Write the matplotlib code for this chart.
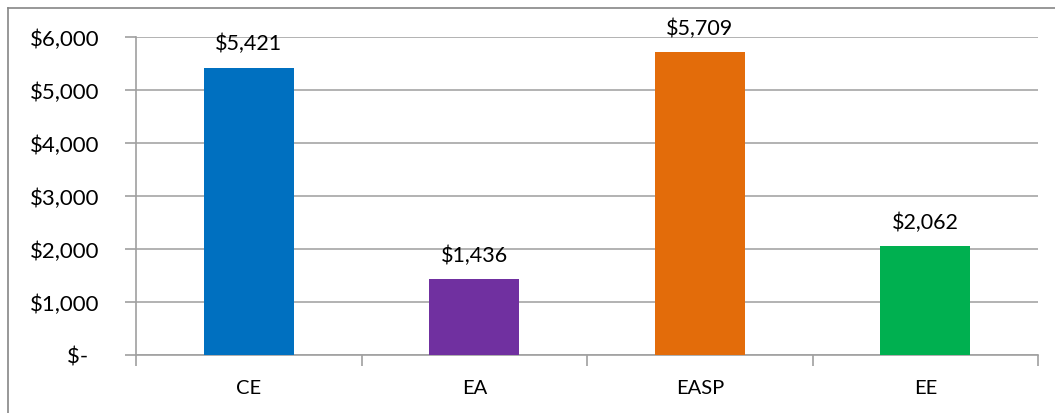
import matplotlib
matplotlib.use("Agg")
import matplotlib.pyplot as plt
from matplotlib.lines import Line2D
from matplotlib.ticker import FuncFormatter

categories = ["CE", "EA", "EASP", "EE"]
values = [5421, 1436, 5709, 2062]
colors = ["#0070C0", "#7030A0", "#E36C0A", "#00B050"]
yticks = [0, 1000, 2000, 3000, 4000, 5000, 6000]

W, H = 1055, 414
fig = plt.figure(figsize=(W / 100, H / 100), dpi=100)
plt.rcParams['font.family'] = ['Lato', 'DejaVu Sans']

# outer chart border: only the left and top edges are inside the picture
bx, by = 7.5 / W, 1 - 8.5 / H
fig.add_artist(Line2D([bx, bx], [0, by], transform=fig.transFigure, color="#868686", linewidth=1.2))
fig.add_artist(Line2D([bx, 1], [by, by], transform=fig.transFigure, color="#868686", linewidth=1.2))

ax = fig.add_axes([136 / W, 1 - 356 / H, (1038 - 136) / W, (356 - 38) / H])
x = range(len(categories))
ax.bar(x, values, width=0.4, color=colors, zorder=3)
ax.set_xlim(-0.5, len(categories) - 0.5)
ax.set_ylim(0, 6000)
ax.set_yticks(yticks)
ax.yaxis.set_major_formatter(FuncFormatter(lambda v, p: "$-  " if v == 0 else f"${v:,.0f}"))
ax.set_xticks(list(x))
ax.set_xticklabels(categories, fontsize=14.5)
ax.set_xticks([i - 0.5 for i in range(len(categories) + 1)], minor=True)
ax.tick_params(axis="x", which="major", length=0, pad=17)
ax.tick_params(axis="x", which="minor", length=8, color="#A0A0A0", width=1.2)
ax.tick_params(axis="y", length=8, color="#A0A0A0", width=1.2, labelsize=16, pad=18)
ax.grid(axis="y", color="#A6A6A6", linewidth=1.2, zorder=0)
for s in ["top", "right"]:
    ax.spines[s].set_visible(False)
for s in ["left", "bottom"]:
    ax.spines[s].set_color("#A0A0A0")
    ax.spines[s].set_linewidth(1.2)

for i, v in enumerate(values):
    ax.annotate(f"${v:,.0f}", (i, v), xytext=(0, 17.5), textcoords="offset points",
                ha="center", va="center", fontsize=15.5)

fig.savefig("out.png", dpi=100)
